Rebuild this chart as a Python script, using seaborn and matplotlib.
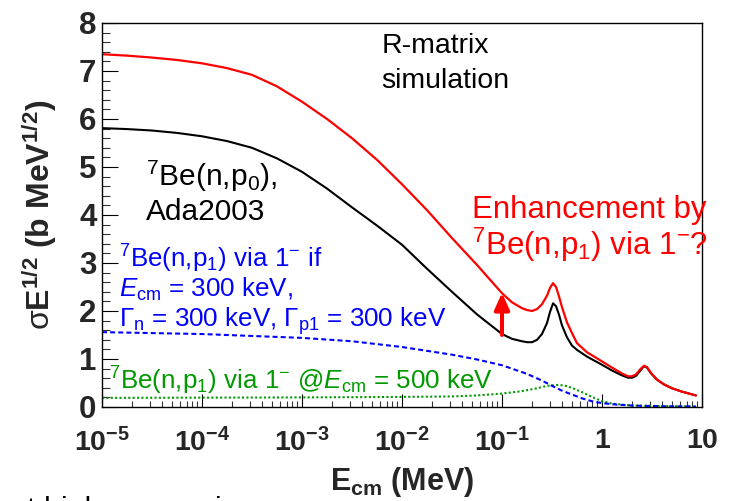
import numpy as np
import pandas as pd
import matplotlib
matplotlib.use("Agg")
import matplotlib.pyplot as plt
from matplotlib.ticker import FixedLocator, MultipleLocator, NullFormatter
import seaborn as sns

# ---------------- data ----------------
energy_MeV = [1e-5, 1.78e-5, 3.16e-5, 5.62e-5, 1e-4, 1.78e-4, 3.16e-4, 5.62e-4,
              1e-3, 1.78e-3, 3.16e-3, 5.62e-3, 0.01, 0.0178, 0.0316, 0.0562,
              0.1, 0.126, 0.158, 0.178, 0.2, 0.224, 0.251, 0.282, 0.302, 0.324,
              0.347, 0.372, 0.398, 0.447, 0.501, 0.562, 0.708, 1.0, 1.26, 1.58,
              1.82, 2.0, 2.19, 2.4, 2.63, 2.82, 3.09, 3.55, 4.17, 5.01, 6.31, 8.7]

ada2003 = [5.81, 5.79, 5.76, 5.71, 5.64, 5.54, 5.40, 5.18,
           4.90, 4.55, 4.16, 3.78, 3.38, 2.88, 2.40, 1.93,
           1.52, 1.42, 1.37, 1.35, 1.35, 1.40, 1.52, 1.75, 1.98, 2.16,
           2.10, 1.92, 1.70, 1.45, 1.28, 1.19, 1.05, 0.88, 0.76, 0.66,
           0.61, 0.61, 0.65, 0.75, 0.85, 0.82, 0.70, 0.57, 0.47, 0.39, 0.32, 0.24]

enhanced = [7.35, 7.32, 7.28, 7.23, 7.16, 7.06, 6.92, 6.68,
            6.36, 6.00, 5.60, 5.15, 4.64, 4.10, 3.52, 2.96,
            2.37, 2.18, 2.06, 2.02, 2.00, 2.04, 2.14, 2.32, 2.48, 2.58,
            2.50, 2.30, 2.08, 1.76, 1.54, 1.33, 1.14, 0.95, 0.82, 0.70,
            0.64, 0.64, 0.68, 0.78, 0.86, 0.83, 0.71, 0.57, 0.47, 0.39, 0.32, 0.24]

blue_E = [1e-5, 1e-4, 1e-3, 3.16e-3, 0.01, 0.0316, 0.0562, 0.1, 0.178, 0.251,
          0.324, 0.398, 0.501, 0.631, 0.794, 1.0, 1.41, 2.0, 3.98, 8.7]
blue_S = [1.56, 1.52, 1.44, 1.37, 1.25, 1.09, 0.99, 0.87, 0.69, 0.55,
          0.43, 0.34, 0.26, 0.18, 0.12, 0.08, 0.05, 0.03, 0.015, 0.01]

green_E = [1e-5, 1e-3, 0.01, 0.0316, 0.0562, 0.1, 0.158, 0.224, 0.282, 0.355,
           0.417, 0.501, 0.631, 0.794, 1.0, 1.26, 2.0, 8.7]
green_S = [0.19, 0.20, 0.21, 0.22, 0.24, 0.28, 0.33, 0.39, 0.44, 0.46,
           0.45, 0.40, 0.31, 0.21, 0.12, 0.07, 0.03, 0.01]

arrow_E = 0.1
arrow_from = 1.50
arrow_to = 2.38

x_ticks = [1e-5, 1e-4, 1e-3, 1e-2, 1e-1, 1, 10]
x_ticklabels = [r'$\mathbf{10^{-5}}$', r'$\mathbf{10^{-4}}$', r'$\mathbf{10^{-3}}$',
                r'$\mathbf{10^{-2}}$', r'$\mathbf{10^{-1}}$', r'$\mathbf{1}$', r'$\mathbf{10}$']
y_ticks = [0, 1, 2, 3, 4, 5, 6, 7, 8]

# ---------------- style ----------------
sns.set_style("white")
plt.rcParams['font.family'] = ['Liberation Sans', 'DejaVu Sans']
plt.rcParams['mathtext.fontset'] = 'custom'
plt.rcParams['mathtext.rm'] = 'Liberation Sans'
plt.rcParams['mathtext.it'] = 'Liberation Sans:italic'
plt.rcParams['mathtext.bf'] = 'Liberation Sans:bold'
plt.rcParams['mathtext.sf'] = 'Liberation Sans'

W, H = 742, 501
fig = plt.figure(figsize=(W / 100, H / 100), dpi=100)
ax = fig.add_axes([102 / W, 94 / H, 600 / W, 384 / H])

df_black = pd.DataFrame({'E': energy_MeV, 'S': ada2003})
df_red = pd.DataFrame({'E': energy_MeV, 'S': enhanced})
df_blue = pd.DataFrame({'E': blue_E, 'S': blue_S})
df_green = pd.DataFrame({'E': green_E, 'S': green_S})

sns.lineplot(data=df_green, x='E', y='S', ax=ax, color='#009a00', lw=1.5,
             linestyle=(0, (1, 1.1)), estimator=None, sort=False)
sns.lineplot(data=df_blue, x='E', y='S', ax=ax, color='#0000ff', lw=1.5,
             linestyle=(0, (2.4, 1.5)), estimator=None, sort=False)
sns.lineplot(data=df_black, x='E', y='S', ax=ax, color='black', lw=1.5,
             estimator=None, sort=False)
sns.lineplot(data=df_red, x='E', y='S', ax=ax, color='#ff0000', lw=1.6,
             estimator=None, sort=False)

ax.annotate('', xy=(arrow_E, arrow_to), xytext=(arrow_E, arrow_from),
            arrowprops=dict(arrowstyle='-|>,head_length=1.0,head_width=0.45',
                            color='#ff0000', lw=2.9, mutation_scale=10,
                            shrinkA=0, shrinkB=0))

ax.set_xscale('log')
ax.set_xlim(1e-5, 10)
ax.set_ylim(0, 8)
ax.xaxis.set_major_locator(FixedLocator(x_ticks))
ax.set_xticklabels(x_ticklabels)
ax.xaxis.set_minor_locator(matplotlib.ticker.LogLocator(base=10, subs=np.arange(2, 10), numticks=100))
ax.xaxis.set_minor_formatter(NullFormatter())
ax.yaxis.set_major_locator(FixedLocator(y_ticks))
ax.set_yticklabels([str(v) for v in y_ticks])
ax.yaxis.set_minor_locator(MultipleLocator(0.2))

ax.tick_params(axis='x', which='major', direction='in', length=9.5, width=0.8,
               labelsize=20.5, pad=15, top=False, bottom=True, color='black')
ax.tick_params(axis='x', which='minor', direction='in', length=4.6, width=0.8,
               top=False, bottom=True, color='#333333')
ax.tick_params(axis='y', which='major', direction='in', length=11.5, width=0.8,
               labelsize=22.5, pad=4, left=True, right=False, color='black')
ax.tick_params(axis='y', which='minor', direction='in', length=5.8, width=0.8,
               left=True, right=False, color='#333333')
for lab in ax.get_yticklabels():
    lab.set_fontweight('bold')

for s in ax.spines.values():
    s.set_color('black')
    s.set_linewidth(1.0)

ax.set_xlabel(r'$\mathbf{E_{cm}}$ (MeV)', fontsize=22, fontweight='bold')
ax.xaxis.label.set_va('baseline')
ax.xaxis.set_label_coords(0.5, (407 - 490) / 384)
ax.set_ylabel(r'$\mathrm{\sigma}\mathbf{E^{1/2}}$ (b MeV$\mathbf{^{1/2}}$)', fontsize=23,
              fontweight='bold')
ax.yaxis.set_label_coords(-0.072, 0.5)


def ftext(x, y, s, **kw):
    fig.text(x / W, 1 - y / H, s, va='baseline', ha='left', **kw)


ftext(382, 53, 'R-matrix', fontsize=20.5, color='black')
ftext(381, 88, 'simulation', fontsize=20.5, color='black')
ftext(146, 186, r'$^{7}$Be(n,p$_{0}$),', fontsize=21.5, color='black')
ftext(146, 220, 'Ada2003', fontsize=21.5, color='black')
ftext(472, 218, 'Enhancement by', fontsize=22.5, color='#ff0000')
ftext(472, 255, r'$^{7}$Be(n,p$_{1}$) via 1$^{-}$?', fontsize=22.5, color='#ff0000')
ftext(119, 268, r'$^{7}$Be(n,p$_{1}$) via 1$^{-}$ if', fontsize=18.7, color='#0000ff')
ftext(119, 297, r'$E_{\mathrm{cm}}$ = 300 keV,', fontsize=18.7, color='#0000ff')
ftext(119, 327, r'$\Gamma_{\mathrm{n}}$ = 300 keV, $\Gamma_{\mathrm{p1}}$ = 300 keV',
      fontsize=18.7, color='#0000ff')
ftext(109, 390, r'$^{7}$Be(n,p$_{1}$) via 1$^{-}$ @$E_{\mathrm{cm}}$ = 500 keV',
      fontsize=18.7, color='#009a00')
# slide text cut off at the bottom edge, as in the reference
ftext(10, 519, 'at higher energies', fontsize=22, color='black')

fig.savefig('out.png', dpi=100)
